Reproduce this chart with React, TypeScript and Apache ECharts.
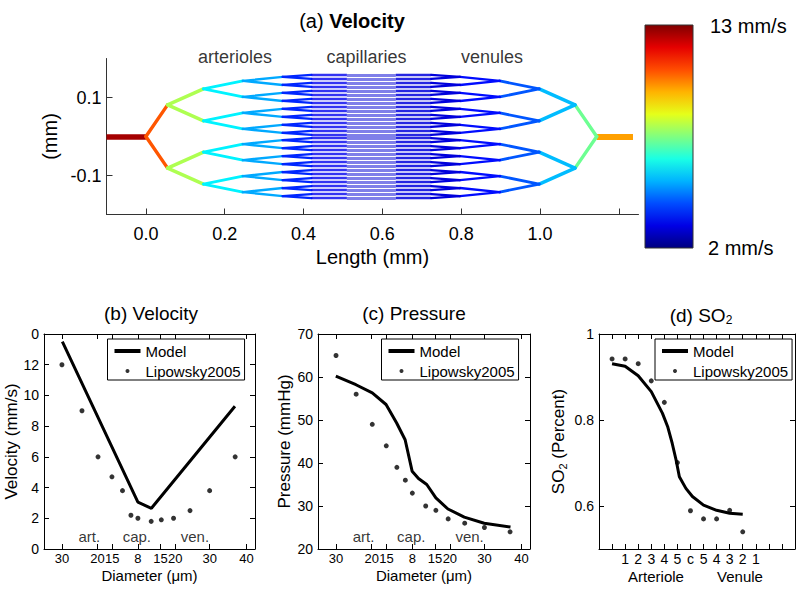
import React, { useEffect, useRef } from 'react';
import * as echarts from 'echarts';

const FONT = '"Liberation Sans", Arial, Helvetica, sans-serif';

// ---------- Panel (a): velocity network ----------
const velocityRange = [2, 13];
const inletX = [-0.1, 0];
const outletX = [1.144, 1.236];
const inletVelocity = 12.6;
const outletVelocity = 9.9;
const arterialNodeX = [0, 0.055, 0.146, 0.246, 0.347, 0.42];
const venousNodeX = [1.144, 1.089, 0.998, 0.898, 0.797, 0.724];
const branchSpread = [0.081, 0.041, 0.0205, 0.0103, 0.0052];
const arterialVelocity = [10.7, 8.0, 6.0, 5.2, 3.8];
const venousVelocity = [7.3, 5.4, 4.3, 3.5, 3.0];
const branchWidth = [3.4, 3.4, 2.8, 2.4, 2.2];
const preCapillaryX = [0.42, 0.51];
const capillaryX = [0.51, 0.634];
const postCapillaryX = [0.634, 0.724];
const preCapillaryVelocity = 3.2;
const capillaryVelocity = 2.9;
const postCapillaryVelocity = 3.0;
const regionNames = ['arterioles', 'capillaries', 'venules'];
const regionX = [0.226, 0.56, 0.878];
const regionY = [0.205, 0.205, 0.205];
const lengthTicks = [0, 0.2, 0.4, 0.6, 0.8, 1.0, 1.2];
const lengthLabels = [0, 0.2, 0.4, 0.6, 0.8, 1.0];
const heightTicks = [-0.1, 0.1];
const colorbarLabels = ['13 mm/s', '2 mm/s'];

// ---------- Panels (b), (c) ----------
const diameterPos = [8.5, 18, 25.6, 32.2, 37.2, 41.2, 44.5, 50.8, 55.6, 61.4, 69.2, 78.5, 90.6];
const diameterTickPos = [8.5, 25.3, 32.3, 44.5, 55.2, 62.2, 78.5, 96];
const diameterTickLabels = ['30', '20', '15', '8', '15', '20', '30', '40'];
const velocityLipowsky = [12, 9, 6, 4.7, 3.8, 2.2, 2.0, 1.8, 1.9, 2.0, 2.5, 3.8, 6.0];
const velocityModelX = [8.7, 44.5, 50.9, 90.5];
const velocityModelY = [13.5, 3.05, 2.65, 9.3];
const pressureLipowsky = [65, 56, 49, 44, 39, 36, 33, 30, 29, 27, 26, 25, 24];
const pressureModelX = [8.4, 17.9, 25.6, 32.1, 37.1, 41.1, 44.4, 47.4, 51.3, 55.6, 61.3, 69.0, 78.4, 90.8];
const pressureModelY = [60.2, 58.2, 56.3, 53.6, 49.3, 45.4, 38.1, 36.4, 35.0, 31.9, 29.3, 27.4, 26.0, 25.1];
const stageNames = ['art.', 'cap.', 'ven.'];
const stageX = [21.5, 44, 71.5];
const velocityStageY = 0.8;
const pressureStageY = 22.9;

// ---------- Panel (d) ----------
const so2Pos = [1, 2, 3, 4, 5, 6, 7, 8, 9, 10, 11];
const so2Lipowsky = [0.942, 0.942, 0.931, 0.891, 0.841, 0.701, 0.589, 0.57, 0.57, 0.59, 0.54];
const so2ModelX = [1, 2, 3, 4, 4.85, 5.25, 5.6, 5.9, 6.15, 6.65, 7.15, 8, 9, 10, 11];
const so2ModelY = [0.931, 0.925, 0.903, 0.866, 0.816, 0.785, 0.746, 0.707, 0.668, 0.641, 0.622, 0.602, 0.59, 0.583, 0.581];
const so2TickLabels = ['', '', '1', '2', '3', '4', '5', 'c', '5', '4', '3', '2', '1', '', '', ''];
const so2YTicks = [0.6, 0.8, 1.0];
const so2GroupNames = ['Arteriole', 'Venule'];

const clamp = (v: number) => Math.max(0, Math.min(1, v));
function jetRGB(t: number) {
  return [clamp(1.5 - Math.abs(4 * t - 3)), clamp(1.5 - Math.abs(4 * t - 2)), clamp(1.5 - Math.abs(4 * t - 1))];
}
function rgbStr(c: number[]) {
  return `rgb(${Math.round(c[0] * 255)},${Math.round(c[1] * 255)},${Math.round(c[2] * 255)})`;
}
function jetColor(v: number) {
  const t = (v - velocityRange[0]) / (velocityRange[1] - velocityRange[0]);
  return rgbStr(jetRGB(clamp(t)));
}

function buildNetwork() {
  const segs: any[] = [];
  const add = (x1: number, y1: number, x2: number, y2: number, v: number, w: number, opacity = 1, cap = 'round') => {
    segs.push({ coords: [[x1, y1], [x2, y2]], lineStyle: { color: jetColor(v), width: w, opacity, cap } });
  };
  add(inletX[0], 0, inletX[1], 0, inletVelocity, 5.5, 1, 'butt');
  add(outletX[0], 0, outletX[1], 0, outletVelocity, 6, 1, 'butt');
  let nodes = [0];
  for (let k = 0; k < branchSpread.length; k++) {
    const next: number[] = [];
    for (const y of nodes) {
      for (const s of [1, -1]) {
        const ny = y + s * branchSpread[k];
        add(arterialNodeX[k], y, arterialNodeX[k + 1], ny, arterialVelocity[k], branchWidth[k]);
        add(venousNodeX[k], y, venousNodeX[k + 1], ny, venousVelocity[k], branchWidth[k]);
        next.push(ny);
      }
    }
    nodes = next;
  }
  for (const y of nodes) {
    add(preCapillaryX[0], y, preCapillaryX[1], y, preCapillaryVelocity, 2.4, 0.8, 'butt');
    add(postCapillaryX[0], y, postCapillaryX[1], y, postCapillaryVelocity, 2.4, 0.85, 'butt');
    add(capillaryX[0], y, capillaryX[1], y, capillaryVelocity, 3.2, 0.5, 'butt');
  }
  return segs;
}

const txt = { color: '#000', fontFamily: FONT };

function boxAxes(gridIndex: number, xCfg: any, yCfg: any) {
  const line = { show: true, onZero: false, lineStyle: { color: '#000', width: 1 } };
  const tick = { show: true, inside: true, length: 5, lineStyle: { color: '#000', width: 1 } };
  const xs = [
    { type: 'value', gridIndex, position: 'bottom', axisLine: line, splitLine: { show: false }, ...xCfg.main, axisTick: { ...tick, ...(xCfg.tick || {}) }, axisLabel: { ...txt, fontSize: 13, margin: 3, ...(xCfg.label || {}) } },
    { type: 'value', gridIndex, position: 'top', axisLine: line, splitLine: { show: false }, ...xCfg.main, name: '', axisTick: { ...tick, ...(xCfg.tick || {}) }, axisLabel: { show: false } },
  ];
  const ys = [
    { type: 'value', gridIndex, position: 'left', axisLine: line, splitLine: { show: false }, ...yCfg.main, axisTick: { ...tick, ...(yCfg.tick || {}) }, axisLabel: { ...txt, fontSize: 14, margin: 5, ...(yCfg.label || {}) } },
    { type: 'value', gridIndex, position: 'right', axisLine: line, splitLine: { show: false }, ...yCfg.main, name: '', axisTick: { ...tick, ...(yCfg.tick || {}) }, axisLabel: { show: false } },
  ];
  return { xs, ys };
}

export default function App() {
  const ref = useRef<HTMLDivElement>(null);
  useEffect(() => {
    if (!ref.current) return;
    const chart = echarts.init(ref.current, undefined, { renderer: 'svg' });

    const diamFmt = (v: number) => {
      const i = diameterTickPos.findIndex((p) => Math.abs(p - v) < 1e-6);
      return i >= 0 ? diameterTickLabels[i] : '';
    };
    const xNameStyle = { ...txt, fontSize: 15 };
    const yNameStyle = { ...txt, fontSize: 17 };

    const b = boxAxes(
      1,
      { main: { min: 0, max: 100, name: 'Diameter (μm)', nameLocation: 'middle', nameGap: 19, nameTextStyle: xNameStyle }, tick: { customValues: diameterTickPos }, label: { customValues: diameterTickPos, formatter: diamFmt } },
      { main: { min: 0, max: 14, interval: 2, name: 'Velocity (mm/s)', nameLocation: 'middle', nameGap: 22, nameTextStyle: yNameStyle }, label: { formatter: (v: number) => (v === 14 ? '0' : String(v)) } }
    );
    const c = boxAxes(
      2,
      { main: { min: 0, max: 100, name: 'Diameter (μm)', nameLocation: 'middle', nameGap: 19, nameTextStyle: xNameStyle }, tick: { customValues: diameterTickPos }, label: { customValues: diameterTickPos, formatter: diamFmt } },
      { main: { min: 20, max: 70, interval: 10, name: 'Pressure (mmHg)', nameLocation: 'middle', nameGap: 25, nameTextStyle: yNameStyle } }
    );
    const d = boxAxes(
      3,
      { main: { min: 0, max: 15, interval: 1 }, label: { fontSize: 14, formatter: (v: number) => so2TickLabels[Math.round(v)] } },
      {
        main: {
          min: 0.5, max: 1, name: '{n|SO}{s|2}{n| (Percent)}', nameLocation: 'middle', nameGap: 31,
          nameTextStyle: { ...yNameStyle, rich: { n: { ...txt, fontSize: 17, lineHeight: 20, verticalAlign: 'middle' }, s: { ...txt, fontSize: 11, verticalAlign: 'bottom', lineHeight: 20 } } },
        },
        tick: { customValues: so2YTicks },
        label: { customValues: so2YTicks, formatter: (v: number) => (Math.abs(v - 1) < 1e-9 ? '1' : v.toFixed(1)) },
      }
    );

    const jetStops = [0, 0.1, 0.2, 0.3, 0.4, 0.5, 0.6, 0.7, 0.8, 0.9, 1].map((o) => ({ offset: o, color: rgbStr(jetRGB(1 - o)) }));

    const legendCommon = {
      orient: 'vertical', top: 339, itemWidth: 26, itemHeight: 4, itemGap: 4,
      padding: [4, 4, 1, 7], borderColor: '#000', borderWidth: 1, backgroundColor: '#fff',
      textStyle: { ...txt, fontSize: 15, lineHeight: 16 }, selectedMode: false,
      data: [{ name: 'Model', icon: 'rect' }, { name: 'Lipowsky2005', icon: 'circle' }], z: 10,
    };

    const lineSeries = (name: string, xi: number, yi: number, xsArr: number[], ysArr: number[]) => ({
      type: 'line', name, xAxisIndex: xi, yAxisIndex: yi, data: xsArr.map((x, i) => [x, ysArr[i]]),
      symbol: 'none', showSymbol: false, lineStyle: { color: '#000', width: 3 }, itemStyle: { color: '#000' }, silent: true,
    });
    const dotSeries = (name: string, xi: number, yi: number, xsArr: number[], ysArr: number[]) => ({
      type: 'scatter', name, xAxisIndex: xi, yAxisIndex: yi, data: xsArr.map((x, i) => [x, ysArr[i]]),
      symbolSize: 5, itemStyle: { color: '#000' }, silent: true, clip: false,
    });
    const labelSeries = (xi: number, yi: number, names: string[], xsArr: number[], ysArr: number[], fontSize: number) => ({
      type: 'scatter', name: 'labels', xAxisIndex: xi, yAxisIndex: yi, symbolSize: 0, clip: false, silent: true,
      data: names.map((n, i) => ({ name: n, value: [xsArr[i], ysArr[i]] })),
      label: { show: true, position: 'inside', formatter: '{b}', ...txt, fontSize },
    });

    const option: any = {
      animation: false,
      backgroundColor: '#fff',
      title: [
        { text: '(a) {b|Velocity}', left: 347, top: 6, textAlign: 'center', textStyle: { ...txt, fontSize: 20, fontWeight: 'normal', rich: { b: { ...txt, fontSize: 20, fontWeight: 'bold' } } } },
        { text: '(b) Velocity', left: 146, top: 299, textAlign: 'center', textStyle: { ...txt, fontSize: 19, fontWeight: 'normal' } },
        { text: '(c) Pressure', left: 409, top: 299, textAlign: 'center', textStyle: { ...txt, fontSize: 19, fontWeight: 'normal' } },
        { text: '{n|(d) SO}{s|2}', left: 696, top: 299, textAlign: 'center', textStyle: { ...txt, fontSize: 19, fontWeight: 'normal', rich: { n: { ...txt, fontSize: 19, lineHeight: 22, verticalAlign: 'middle' }, s: { ...txt, fontSize: 12, lineHeight: 22, verticalAlign: 'bottom' } } } },
      ],
      grid: [
        { left: 106.5, top: 58.5, width: 532, height: 156 },
        { left: 44, top: 334, width: 211, height: 215 },
        { left: 318, top: 334, width: 212, height: 215 },
        { left: 599, top: 334, width: 196, height: 215 },
      ],
      xAxis: [
        {
          type: 'value', gridIndex: 0, min: -0.1, max: 1.25,
          axisLine: { show: true, onZero: false, lineStyle: { color: '#333', width: 1 } },
          axisTick: { show: true, inside: true, length: 6, customValues: lengthTicks, lineStyle: { color: '#333' } },
          axisLabel: { ...txt, fontSize: 18, margin: 10, customValues: lengthLabels, formatter: (v: number) => v.toFixed(1) },
          splitLine: { show: false },
          name: 'Length (mm)', nameLocation: 'middle', nameGap: 32, nameTextStyle: { ...txt, fontSize: 20 },
        },
        ...b.xs, ...c.xs, ...d.xs,
      ],
      yAxis: [
        {
          type: 'value', gridIndex: 0, min: -0.2, max: 0.2,
          axisLine: { show: true, onZero: false, lineStyle: { color: '#333', width: 1 } },
          axisTick: { show: true, inside: true, length: 6, customValues: heightTicks, lineStyle: { color: '#333' } },
          axisLabel: { ...txt, fontSize: 18, margin: 5, customValues: heightTicks, formatter: (v: number) => v.toFixed(1) },
          splitLine: { show: false },
          name: '(mm)', nameLocation: 'middle', nameGap: 43, nameTextStyle: { ...txt, fontSize: 20 },
        },
        ...b.ys, ...c.ys, ...d.ys,
      ],
      legend: [
        { ...legendCommon, left: 107.5 },
        { ...legendCommon, left: 381.5 },
        { ...legendCommon, left: 655 },
      ],
      series: [
        { type: 'lines', coordinateSystem: 'cartesian2d', xAxisIndex: 0, yAxisIndex: 0, data: buildNetwork(), silent: true, polyline: false },
        labelSeries(0, 0, regionNames, regionX, regionY, 18),
        lineSeries('Model', 1, 1, velocityModelX, velocityModelY),
        dotSeries('Lipowsky2005', 1, 1, diameterPos, velocityLipowsky),
        labelSeries(1, 1, stageNames, stageX, stageNames.map(() => velocityStageY), 15),
        lineSeries('Model', 3, 3, pressureModelX, pressureModelY),
        dotSeries('Lipowsky2005', 3, 3, diameterPos, pressureLipowsky),
        labelSeries(3, 3, stageNames, stageX, stageNames.map(() => pressureStageY), 15),
        lineSeries('Model', 5, 5, so2ModelX, so2ModelY),
        dotSeries('Lipowsky2005', 5, 5, so2Pos, so2Lipowsky),
      ],
      graphic: [
        { type: 'rect', shape: { x: 645, y: 25, width: 48, height: 223 }, style: { fill: new echarts.graphic.LinearGradient(0, 0, 0, 1, jetStops), stroke: '#333', lineWidth: 1 } },
        { type: 'text', x: 710, y: 26, style: { text: colorbarLabels[0], fill: '#000', font: `20px ${FONT}`, verticalAlign: 'middle' } },
        { type: 'text', x: 708, y: 248, style: { text: colorbarLabels[1], fill: '#000', font: `20px ${FONT}`, verticalAlign: 'middle' } },
        { type: 'text', x: 656, y: 576, style: { text: so2GroupNames[0], fill: '#000', font: `15px ${FONT}`, align: 'center', verticalAlign: 'middle' } },
        { type: 'text', x: 740, y: 576, style: { text: so2GroupNames[1], fill: '#000', font: `15px ${FONT}`, align: 'center', verticalAlign: 'middle' } },
      ],
    };
    chart.setOption(option);
    return () => chart.dispose();
  }, []);
  return <div ref={ref} style={{ position: 'fixed', left: 0, top: 0, width: 800, height: 591, background: '#fff' }} />;
}
